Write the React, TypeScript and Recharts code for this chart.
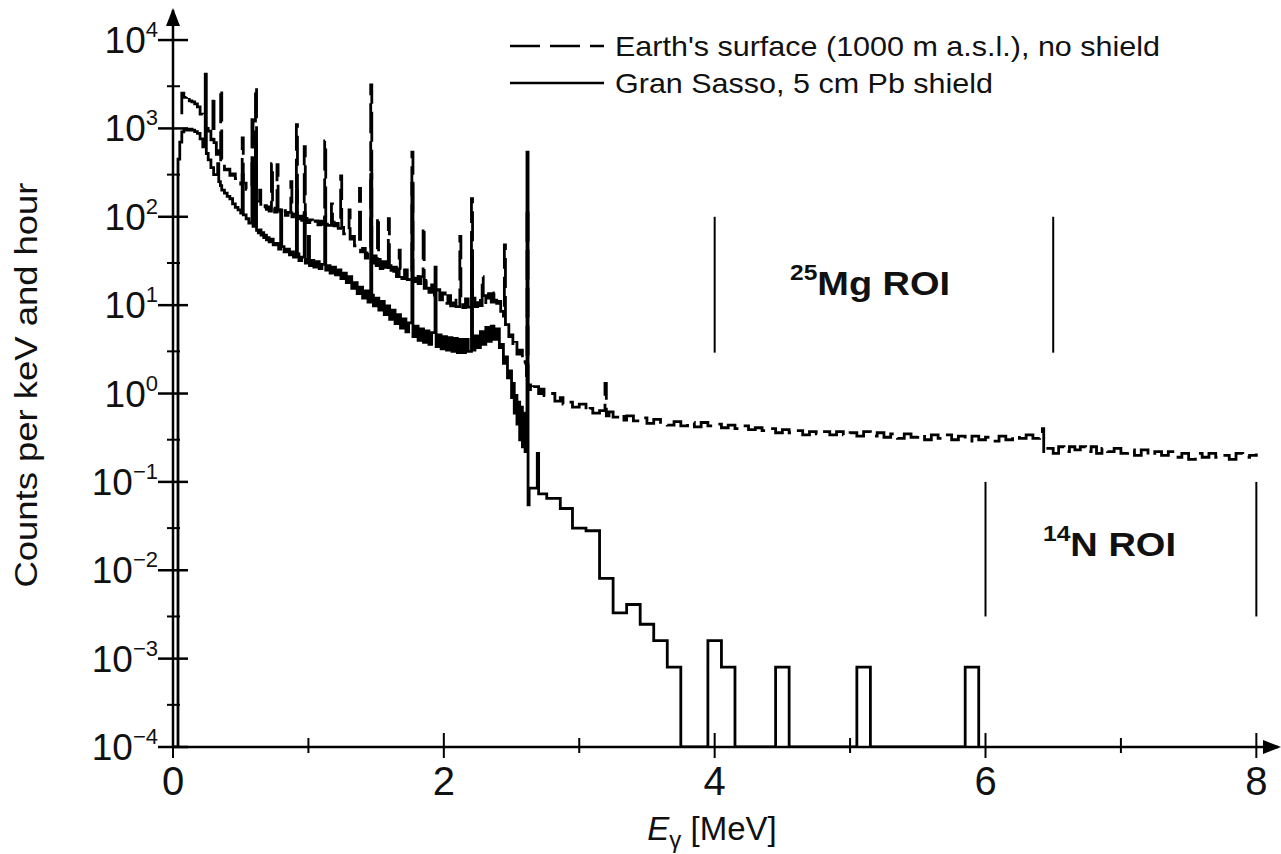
import React from 'react';
import { LineChart, Line, XAxis, YAxis, ReferenceLine } from 'recharts';

// Earth's surface, no shield (dashed) — [E in MeV, counts per keV and hour]
const surfaceLow: [number, number][] = [
  [0.055, 1500], [0.065, 2500], [0.08, 2250], [0.1, 2400], [0.12, 2050], [0.14, 2000],
  [0.16, 1900], [0.18, 1750], [0.2, 1450], [0.22, 1300], [0.24, 1000], [0.26, 930],
  [0.28, 740], [0.295, 2300], [0.303, 690], [0.32, 510], [0.335, 560], [0.345, 420],
  [0.352, 2800], [0.36, 390], [0.38, 340], [0.4, 345], [0.42, 295], [0.44, 305],
  [0.46, 270], [0.48, 275], [0.5, 235], [0.511, 780], [0.519, 240], [0.54, 205],
  [0.56, 215], [0.583, 1420], [0.591, 175], [0.609, 2950], [0.617, 165], [0.63, 150],
  [0.64, 200], [0.648, 138], [0.66, 142], [0.67, 126], [0.68, 134], [0.69, 121],
  [0.7, 129], [0.71, 116], [0.727, 400], [0.735, 125], [0.75, 113], [0.768, 390],
  [0.776, 120], [0.79, 108], [0.81, 117], [0.83, 104], [0.85, 112], [0.87, 250],
  [0.878, 100], [0.89, 107], [0.911, 1100], [0.919, 95], [0.93, 102], [0.95, 91],
  [0.969, 620], [0.977, 96], [0.99, 86], [1.01, 92], [1.03, 82], [1.05, 90],
  [1.07, 81], [1.09, 89], [1.11, 82], [1.12, 720], [1.128, 90], [1.14, 80],
  [1.17, 140], [1.178, 87], [1.19, 79], [1.21, 84], [1.22, 74], [1.238, 290],
  [1.246, 76], [1.26, 64], [1.28, 68], [1.3, 120], [1.308, 56], [1.32, 60],
  [1.34, 47], [1.36, 52], [1.377, 210], [1.385, 40], [1.4, 44], [1.42, 34],
  [1.44, 39], [1.46, 3100], [1.468, 30], [1.48, 36], [1.5, 28], [1.51, 100],
  [1.518, 33], [1.53, 26], [1.55, 31], [1.57, 24], [1.59, 95], [1.598, 28],
  [1.61, 22], [1.63, 27], [1.65, 21], [1.67, 42], [1.678, 26], [1.69, 20],
  [1.71, 25], [1.73, 19.5], [1.75, 24], [1.764, 540], [1.772, 18.5], [1.79, 23],
  [1.81, 17.5], [1.83, 21], [1.847, 77], [1.855, 15.5], [1.87, 19], [1.89, 14],
  [1.91, 17], [1.93, 12.5], [1.95, 15], [1.97, 11.5], [1.99, 13.8], [2.01, 10.5],
  [2.03, 12.8], [2.05, 9.8], [2.07, 12.2], [2.09, 9.6], [2.118, 60], [2.126, 12],
  [2.14, 9.4], [2.16, 11.8], [2.18, 9.5], [2.204, 160], [2.212, 12], [2.23, 9.6],
  [2.25, 12.2], [2.27, 9.9], [2.283, 21], [2.291, 12.8], [2.31, 10.2], [2.33, 13.5],
  [2.35, 10.8], [2.37, 13.8], [2.39, 10.5], [2.41, 11], [2.42, 8.5], [2.44, 7.5],
  [2.447, 48], [2.455, 5.4], [2.47, 6], [2.48, 4.4], [2.5, 4.6], [2.51, 3.4],
  [2.53, 3.8], [2.54, 2.8], [2.56, 3.1], [2.58, 2.2], [2.6, 2.3], [2.61, 1.6],
  [2.614, 125], [2.622, 1.25],
];

const surfaceTail: [number, number][] = [
  [2.64, 1.05], [2.66, 1.2], [2.7, 1.0], [2.72, 1.12], [2.74, 0.95], [2.78, 1.0],
  [2.82, 0.82], [2.86, 0.9], [2.88, 0.76], [2.9, 0.8], [2.95, 0.7], [3.0, 0.76],
  [3.05, 0.63], [3.08, 0.68], [3.1, 0.6], [3.15, 0.64], [3.19, 1.3], [3.2, 0.56],
  [3.22, 0.62], [3.25, 0.54], [3.3, 0.58], [3.33, 0.5], [3.35, 0.56], [3.4, 0.49],
  [3.45, 0.53], [3.5, 0.46], [3.55, 0.51], [3.6, 0.45], [3.65, 0.44], [3.7, 0.48],
  [3.75, 0.43], [3.8, 0.47], [3.85, 0.42], [3.9, 0.47], [3.95, 0.43], [4.0, 0.45],
  [4.05, 0.41], [4.1, 0.44], [4.15, 0.4], [4.2, 0.43], [4.25, 0.39], [4.3, 0.41],
  [4.35, 0.38], [4.4, 0.4], [4.45, 0.36], [4.5, 0.39], [4.55, 0.36], [4.6, 0.38],
  [4.65, 0.34], [4.7, 0.37], [4.75, 0.35], [4.8, 0.37], [4.85, 0.34], [4.9, 0.37],
  [4.95, 0.34], [5.0, 0.36], [5.05, 0.33], [5.1, 0.37], [5.15, 0.33], [5.2, 0.36],
  [5.25, 0.32], [5.3, 0.35], [5.35, 0.31], [5.4, 0.35], [5.45, 0.32], [5.5, 0.34],
  [5.55, 0.3], [5.6, 0.34], [5.65, 0.31], [5.7, 0.34], [5.75, 0.3], [5.8, 0.33],
  [5.85, 0.29], [5.9, 0.33], [5.95, 0.3], [6.0, 0.32], [6.05, 0.29], [6.1, 0.33],
  [6.15, 0.3], [6.2, 0.33], [6.25, 0.31], [6.3, 0.34], [6.35, 0.31], [6.4, 0.33],
  [6.42, 0.4], [6.43, 0.21], [6.46, 0.24], [6.5, 0.21], [6.54, 0.25], [6.58, 0.22],
  [6.62, 0.25], [6.66, 0.23], [6.7, 0.25], [6.74, 0.22], [6.78, 0.25], [6.82, 0.21],
  [6.86, 0.24], [6.9, 0.22], [6.95, 0.24], [7.0, 0.21], [7.05, 0.23], [7.1, 0.2],
  [7.15, 0.23], [7.2, 0.2], [7.25, 0.22], [7.3, 0.2], [7.35, 0.22], [7.4, 0.19],
  [7.45, 0.21], [7.5, 0.18], [7.55, 0.21], [7.6, 0.19], [7.65, 0.21], [7.7, 0.19],
  [7.75, 0.2], [7.8, 0.18], [7.85, 0.21], [7.9, 0.19], [7.95, 0.2], [8.0, 0.21],
];

// Gran Sasso, 5 cm Pb shield (solid)
const sassoLow: [number, number][] = [
  [0.0, 0.0001], [0.037, 450], [0.05, 700], [0.065, 915], [0.08, 980], [0.1, 960],
  [0.12, 980], [0.14, 955], [0.16, 920], [0.18, 880], [0.2, 760], [0.22, 620],
  [0.238, 4100], [0.246, 520], [0.26, 440], [0.28, 360], [0.3, 300], [0.33, 400],
  [0.338, 250], [0.35, 225], [0.36, 200], [0.38, 185], [0.4, 170], [0.42, 160],
  [0.44, 140], [0.46, 128], [0.48, 120], [0.5, 110], [0.511, 300], [0.519, 105],
  [0.54, 95], [0.56, 85], [0.583, 400], [0.591, 78], [0.609, 700], [0.617, 70],
  [0.63, 66], [0.64, 71], [0.65, 62], [0.66, 66], [0.67, 58], [0.68, 62],
  [0.69, 55], [0.7, 58], [0.71, 52], [0.72, 56], [0.74, 48], [0.76, 50],
  [0.78, 43], [0.795, 120], [0.803, 46], [0.82, 40], [0.84, 43], [0.86, 37],
  [0.88, 40], [0.89, 35], [0.911, 200], [0.919, 38], [0.93, 32], [0.95, 35],
  [0.969, 110], [0.977, 30], [0.99, 33], [1.0, 60], [1.008, 28], [1.02, 32],
  [1.04, 27], [1.06, 31], [1.08, 26], [1.1, 29], [1.12, 100], [1.128, 25],
  [1.14, 28], [1.16, 23], [1.18, 27], [1.2, 22], [1.22, 25], [1.24, 20],
  [1.26, 23], [1.28, 18], [1.3, 21], [1.32, 15.5], [1.34, 18], [1.36, 13.5],
  [1.38, 16], [1.4, 12], [1.42, 14.5], [1.44, 10.8], [1.46, 300], [1.468, 13],
  [1.48, 9.8], [1.5, 12], [1.52, 8.8], [1.54, 11], [1.56, 7.8], [1.58, 9.8],
  [1.6, 6.9], [1.62, 8.8], [1.64, 6.2], [1.66, 7.8], [1.68, 5.5], [1.7, 7.0],
  [1.72, 5.0], [1.74, 6.3], [1.764, 240], [1.772, 4.4], [1.79, 5.8], [1.81, 4.0],
  [1.83, 5.4], [1.85, 3.8], [1.87, 5.1], [1.89, 3.6], [1.91, 4.9], [1.935, 27],
  [1.943, 3.4], [1.96, 4.6], [1.98, 3.2], [2.0, 4.4], [2.02, 3.1], [2.04, 4.3],
  [2.06, 3.0], [2.08, 4.2], [2.1, 2.9], [2.12, 4.1], [2.14, 2.9], [2.16, 4.1],
  [2.18, 3.0], [2.204, 40], [2.212, 3.1], [2.23, 4.5], [2.25, 3.3], [2.27, 5.0],
  [2.29, 3.6], [2.31, 5.6], [2.33, 3.9], [2.35, 5.8], [2.37, 4.1], [2.39, 5.4],
  [2.41, 3.3], [2.43, 3.6], [2.44, 2.2], [2.46, 2.6], [2.47, 1.5], [2.49, 1.8],
  [2.5, 0.9], [2.51, 1.3], [2.52, 0.6], [2.53, 0.95], [2.54, 0.45], [2.55, 0.8],
  [2.56, 0.3], [2.57, 0.7], [2.58, 0.25], [2.59, 0.6], [2.6, 0.22], [2.61, 0.5],
  [2.614, 540], [2.622, 0.055],
];

const sassoTail: [number, number][] = [
  [2.63, 0.085], [2.69, 0.21], [2.7, 0.073], [2.76, 0.065], [2.86, 0.05], [2.95, 0.03],
  [3.05, 0.028], [3.15, 0.0081], [3.25, 0.0033], [3.35, 0.0041], [3.45, 0.00245],
  [3.55, 0.0016], [3.65, 0.0008], [3.75, 0.0001], [3.95, 0.0016], [4.05, 0.0008],
  [4.15, 0.0001], [4.45, 0.0008], [4.55, 0.0001], [5.05, 0.0008], [5.15, 0.0001],
  [5.85, 0.0008], [5.95, 0.0001],
];

// regions of interest: [E start, E end, lower count, upper count]
const roiMg = [4.0, 6.5, 2.9, 100];
const roiN = [6.0, 8.0, 0.003, 0.1];

const xTicks = [0, 1, 2, 3, 4, 5, 6, 7, 8];
const yTicks = [
  1e-4, 3e-4, 1e-3, 3e-3, 1e-2, 3e-2, 1e-1, 3e-1, 1, 3, 10, 30, 100, 300, 1000, 3000, 10000,
];

const toRows = (pairs: [number, number][]) => pairs.map(([e, v]) => ({ e, v }));
const surfaceData = toRows([...surfaceLow, ...surfaceTail]);
const sassoData = toRows([...sassoLow, ...sassoTail]);

const FONT = '"Liberation Sans", Arial, Helvetica, sans-serif';

const YTick = (props: any) => {
  const { x, y, payload } = props;
  const lg = Math.log10(payload.value);
  const exp = Math.round(lg);
  const major = Math.abs(lg - exp) < 1e-6;
  if (!major) {
    return <line x1={x - 6} x2={x + 7} y1={y} y2={y} stroke="#000" strokeWidth={2} />;
  }
  return (
    <g>
      <line x1={x - 15} x2={x + 15} y1={y} y2={y} stroke="#000" strokeWidth={2.5} />
      <text x={x - 15} y={y + 13} textAnchor="end" fontFamily={FONT} fontSize={37} fill="#111">
        10
        <tspan dy={-16} fontSize={22}>{exp < 0 ? '\u2212' + -exp : exp}</tspan>
      </text>
    </g>
  );
};

const XTick = (props: any) => {
  const { x, y, payload } = props;
  const v = payload.value;
  const major = v % 2 === 0;
  return (
    <g>
      <line x1={x} x2={x} y1={y - (major ? 14 : 9)} y2={y + (major ? 11 : 6)} stroke="#000" strokeWidth={2} />
      {major && (
        <text x={x} y={y + 48} textAnchor="middle" fontFamily={FONT} fontSize={40} fill="#111">
          {v}
        </text>
      )}
    </g>
  );
};

export default function App() {
  return (
    <div style={{ position: 'absolute', left: 0, top: 0, background: '#fff' }}>
      <LineChart width={1281} height={854} margin={{ top: 10, right: 3, bottom: 47, left: 63 }}>
        <XAxis
          type="number"
          dataKey="e"
          domain={[0, 8.16]}
          ticks={xTicks}
          tick={<XTick />}
          tickSize={0}
          tickMargin={0}
          tickLine={false}
          axisLine={{ stroke: '#000', strokeWidth: 2.5 }}
          height={60}
          allowDataOverflow
        />
        <YAxis
          type="number"
          scale="log"
          domain={[1e-4, 21878]}
          ticks={yTicks}
          tick={<YTick />}
          tickSize={0}
          tickMargin={0}
          tickLine={false}
          axisLine={{ stroke: '#000', strokeWidth: 2.5 }}
          width={110}
          allowDataOverflow
        />
        <Line
          data={surfaceData}
          dataKey="v"
          type="stepAfter"
          stroke="#000"
          strokeWidth={2.8}
          strokeDasharray="30 8"
          dot={false}
          activeDot={false}
          isAnimationActive={false}
        />
        <Line
          data={sassoData}
          dataKey="v"
          type="stepAfter"
          stroke="#000"
          strokeWidth={2.8}
          dot={false}
          activeDot={false}
          isAnimationActive={false}
        />
        <ReferenceLine segment={[{ x: roiMg[0], y: roiMg[2] }, { x: roiMg[0], y: roiMg[3] }]} stroke="#000" strokeWidth={2} />
        <ReferenceLine segment={[{ x: roiMg[1], y: roiMg[2] }, { x: roiMg[1], y: roiMg[3] }]} stroke="#000" strokeWidth={2} />
        <ReferenceLine segment={[{ x: roiN[0], y: roiN[2] }, { x: roiN[0], y: roiN[3] }]} stroke="#000" strokeWidth={2} />
        <ReferenceLine segment={[{ x: roiN[1], y: roiN[2] }, { x: roiN[1], y: roiN[3] }]} stroke="#000" strokeWidth={2} />

        {/* axis arrows */}
        <polygon points="173,8 166,26 180,26" fill="#000" />
        <polygon points="1281,747 1263,740 1263,754" fill="#000" />

        {/* legend */}
        <line x1={510} x2={604} y1={46} y2={46} stroke="#000" strokeWidth={2.4} strokeDasharray="30 10" />
        <line x1={510} x2={604} y1={83} y2={83} stroke="#000" strokeWidth={2.4} />
        <text x={615} y={56} fontFamily={FONT} fontSize={28} fill="#111" textLength={545} lengthAdjust="spacingAndGlyphs">
          Earth's surface (1000 m a.s.l.), no shield
        </text>
        <text x={615} y={93} fontFamily={FONT} fontSize={28} fill="#111" textLength={378} lengthAdjust="spacingAndGlyphs">
          Gran Sasso, 5 cm Pb shield
        </text>

        {/* ROI labels */}
        <text x={790} y={295} fontFamily={FONT} fontSize={34} fontWeight="bold" fill="#111" textLength={160} lengthAdjust="spacingAndGlyphs">
          <tspan fontSize={22} dy={-15}>25</tspan>
          <tspan dy={15}>Mg ROI</tspan>
        </text>
        <text x={1043} y={556} fontFamily={FONT} fontSize={34} fontWeight="bold" fill="#111" textLength={133} lengthAdjust="spacingAndGlyphs">
          <tspan fontSize={22} dy={-15}>14</tspan>
          <tspan dy={15}>N ROI</tspan>
        </text>

        {/* axis titles */}
        <text x={37} y={385} transform="rotate(-90 37 385)" textAnchor="middle" fontFamily={FONT} fontSize={31} fill="#111" textLength={405} lengthAdjust="spacingAndGlyphs">
          Counts per keV and hour
        </text>
        <text x={712} y={840} textAnchor="middle" fontFamily={FONT} fontSize={33} fill="#111">
          <tspan fontStyle="italic">E</tspan>
          <tspan fontSize={24} dy={8}>{'\u03b3'}</tspan>
          <tspan dy={-8}> [MeV]</tspan>
        </text>
      </LineChart>
    </div>
  );
}
